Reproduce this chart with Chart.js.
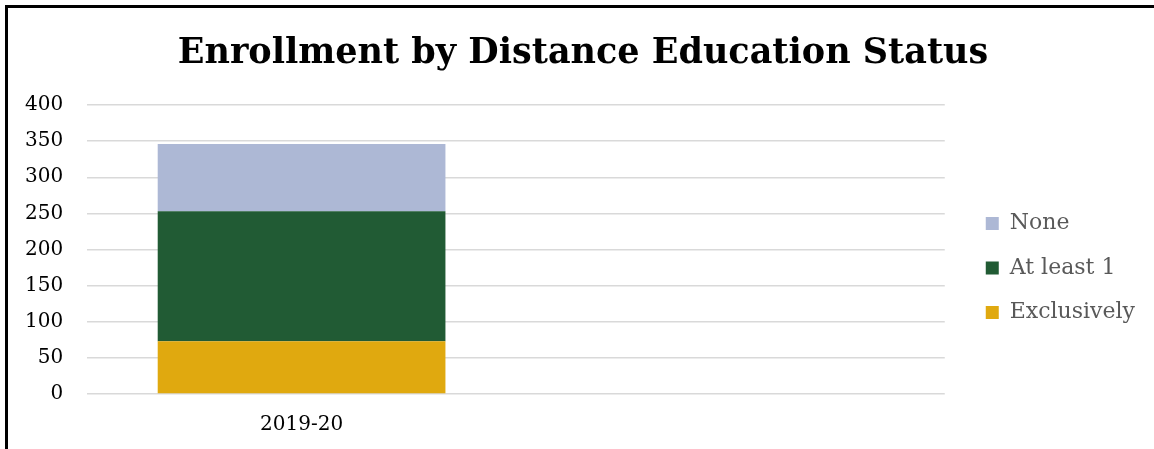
<!DOCTYPE html>
<html>
<head>
<meta charset="utf-8">
<script src="https://cdn.jsdelivr.net/npm/chart.js@4/dist/chart.umd.min.js"></script>
<style>
  html, body { margin:0; padding:0; background:#fff; width:1154px; height:449px; overflow:hidden; }
  #frame { position:absolute; left:5px; top:5px; width:1200px; height:500px; border-left:3px solid #000; border-top:3px solid #000; }
  #wrap { position:absolute; left:0; top:0; width:1154px; height:449px; }
</style>
</head>
<body>
<div id="frame"></div>
<div id="wrap"><canvas id="c" width="1154" height="449"></canvas></div>
<script>
const categories = ['2019-20', ''];
const exclusively = [73, null];
const atLeast1 = [180, null];
const none = [93, null];
const seriesNames = ['Exclusively', 'At least 1', 'None'];
const yTicks = [0, 50, 100, 150, 200, 250, 300, 350, 400];

const serif = "'DejaVu Serif', 'Liberation Serif', serif";

const layoutTweaks = {
  id: 'layoutTweaks',
  afterLayout(chart) {
    if (chart.titleBlock) chart.titleBlock.left += 20;
    if (chart.legend) { chart.legend.top += 34; chart.legend.bottom += 34; }
  }
};

new Chart(document.getElementById('c'), {
  type: 'bar',
  data: {
    labels: categories,
    datasets: [
      { label: seriesNames[0], data: exclusively, backgroundColor: '#E0A90F' },
      { label: seriesNames[1], data: atLeast1, backgroundColor: '#215B34' },
      { label: seriesNames[2], data: none, backgroundColor: '#ADB8D5' }
    ]
  },
  plugins: [layoutTweaks],
  options: {
    responsive: false,
    animation: false,
    layout: { padding: { top: 20, left: 1, right: 9, bottom: 1 } },
    datasets: { bar: { categoryPercentage: 1, barPercentage: 0.671 } },
    plugins: {
      title: {
        display: true,
        text: 'Enrollment by Distance Education Status',
        color: '#000',
        font: { family: serif, size: 35, weight: 'bold' },
        padding: { top: 13, bottom: 30 }
      },
      legend: {
        position: 'right',
        reverse: true,
        labels: {
          color: '#595959',
          font: { family: serif, size: 22 },
          boxWidth: 13,
          boxHeight: 13,
          padding: 22.5
        }
      },
      tooltip: { enabled: false }
    },
    scales: {
      x: {
        stacked: true,
        grid: { display: false },
        border: { display: false },
        ticks: { color: '#000', font: { family: serif, size: 20 }, padding: 11 }
      },
      y: {
        stacked: true,
        min: 0, max: 400,
        afterBuildTicks: (axis) => { axis.ticks = yTicks.map(v => ({ value: v })); },
        grid: { color: '#D9D9D9', lineWidth: 1.5, drawTicks: false },
        border: { display: false },
        ticks: { color: '#000', font: { family: serif, size: 20 }, padding: 24 }
      },
      gap: {
        type: 'linear',
        position: 'right',
        display: true,
        grid: { display: false, drawTicks: false },
        border: { display: false },
        ticks: { display: false },
        afterFit: (s) => { s.width = 18.5; }
      }
    }
  }
});
</script>
</body>
</html>
